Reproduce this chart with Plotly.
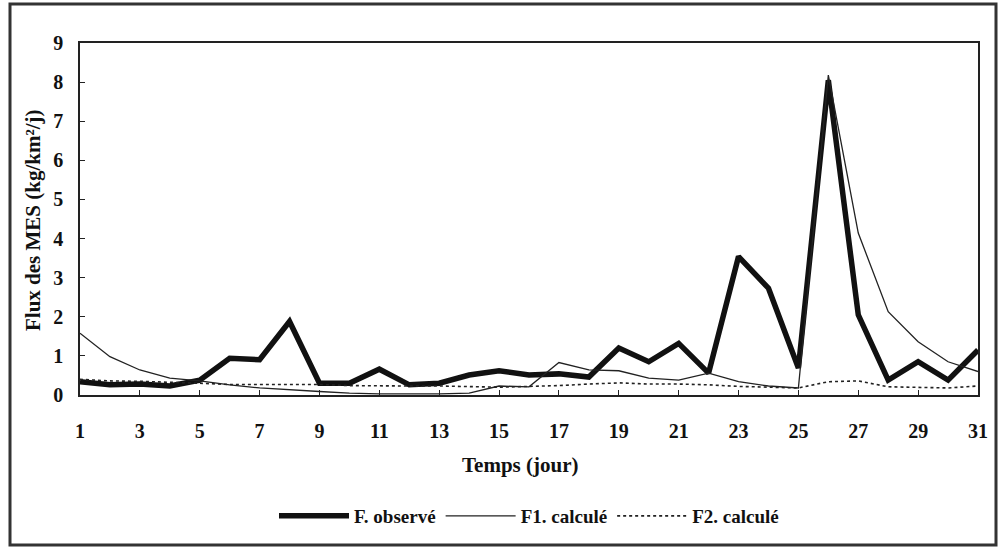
import plotly.graph_objects as go

days = list(range(1, 32))
f_obs = [0.34, 0.26, 0.28, 0.23, 0.38, 0.94, 0.90, 1.88, 0.30, 0.30,
         0.66, 0.26, 0.30, 0.51, 0.62, 0.51, 0.54, 0.46, 1.20, 0.85,
         1.32, 0.56, 3.54, 2.73, 0.69, 8.05, 2.05, 0.38, 0.85, 0.38, 1.15]
f1_calc = [1.58, 0.98, 0.64, 0.43, 0.36, 0.26, 0.18, 0.13, 0.09, 0.05,
           0.03, 0.03, 0.03, 0.05, 0.23, 0.21, 0.83, 0.64, 0.62, 0.43,
           0.38, 0.56, 0.34, 0.23, 0.18, 8.18, 4.14, 2.13, 1.36, 0.85, 0.60]
f2_calc = [0.40, 0.36, 0.35, 0.33, 0.30, 0.27, 0.27, 0.27, 0.27, 0.24,
           0.23, 0.23, 0.23, 0.21, 0.20, 0.22, 0.24, 0.28, 0.31, 0.28,
           0.28, 0.26, 0.22, 0.20, 0.18, 0.34, 0.36, 0.21, 0.19, 0.18, 0.23]
x_ticks = list(range(1, 32, 2))
y_ticks = list(range(0, 10))

FONT = "Liberation Serif"

fig = go.Figure()
fig.add_trace(go.Scatter(x=days, y=f_obs, mode="lines", name="F. observé",
                         line=dict(color="#111", width=5.5)))
fig.add_trace(go.Scatter(x=days, y=f1_calc, mode="lines", name="F1. calculé",
                         line=dict(color="#222", width=1.3)))
fig.add_trace(go.Scatter(x=days, y=f2_calc, mode="lines", name="F2. calculé",
                         line=dict(color="#222", width=1.6, dash="dot")))

L, R, T, B = 80, 978, 43, 395
W, H = 999, 549
pw, ph = R - L, B - T

fig.update_layout(
    width=W, height=H,
    margin=dict(l=L, r=W - R, t=T, b=H - B),
    paper_bgcolor="white", plot_bgcolor="white",
    font=dict(family=FONT, color="#111", size=18, weight="bold"),
    showlegend=True,
    legend=dict(orientation="h", x=0.5, xanchor="center",
                y=(B - 516) / ph, yanchor="middle",
                font=dict(family=FONT, size=19, weight="bold"),
                itemwidth=70, traceorder="normal"),
    xaxis=dict(range=[1, 31], tickvals=x_ticks, ticktext=[str(v) for v in x_ticks],
               ticks="inside", ticklen=5, tickcolor="#222",
               showline=True, linecolor="#222", linewidth=1.5, mirror=True,
               showgrid=False, zeroline=False, ticklabelstandoff=17,
               tickfont=dict(family=FONT, size=20, weight="bold")),
    yaxis=dict(range=[0, 9], tickvals=y_ticks,
               ticks="inside", ticklen=5, tickcolor="#222",
               showline=True, linecolor="#222", linewidth=1.5, mirror=True,
               showgrid=False, zeroline=False, ticklabelstandoff=11,
               tickfont=dict(family=FONT, size=20, weight="bold")),
)

fig.add_annotation(text="Temps (jour)", xref="paper", yref="paper",
                   x=(520 - L) / pw, y=(B - 465) / ph, showarrow=False,
                   xanchor="center", yanchor="middle",
                   font=dict(family=FONT, size=21, weight="bold"))
fig.add_annotation(text="Flux des MES (kg/km²/j)", xref="paper", yref="paper",
                   x=(33 - L) / pw, y=(B - 220) / ph, showarrow=False,
                   textangle=-90, xanchor="center", yanchor="middle",
                   font=dict(family=FONT, size=21, weight="bold"))

# outer frame around the whole figure
fig.add_shape(type="rect", xref="paper", yref="paper",
              x0=(10 - L) / pw, x1=(996 - L) / pw,
              y0=(B - 545) / ph, y1=(B - 4) / ph,
              line=dict(color="#333", width=3), layer="below")

fig.write_html("out.html")
